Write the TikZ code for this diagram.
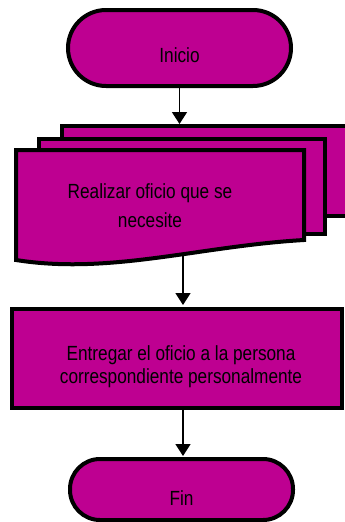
\documentclass[tikz,border=0pt]{standalone}
\usepackage{fontspec}
\newfontfamily\narrowsans[FakeStretch=0.84]{Liberation Sans}
\usetikzlibrary{arrows.meta}
\definecolor{flowfill}{RGB}{190,0,145}
\begin{document}
\begin{tikzpicture}[x=1pt,y=-1pt,
  shapeline/.style={draw=black,line width=4pt,fill=flowfill},
  terminal/.style={shapeline,rectangle,rounded corners=#1,minimum width=223pt,inner sep=0pt,
    font=\narrowsans\fontsize{20.5}{23}\selectfont,text depth=0pt},
  process/.style={shapeline,rectangle,minimum width=330pt,minimum height=99pt,inner sep=0pt},
  label/.style={font=\narrowsans\fontsize{20.5}{23}\selectfont,align=center,inner sep=0pt},
  arr/.style={draw=black,line width=1.6pt,-{Triangle[length=12pt,width=15pt]}}]
\useasboundingbox (0,0) rectangle (345,522);
% start
\node[terminal=38pt,minimum height=76pt,text height=29pt] (inicio) at (179.5,48) {Inicio};
% multi-document
\draw[shapeline] (62,125.5) rectangle (372,216);
\draw[shapeline] (39,138.5) rectangle (325,234);
\draw[shapeline] (16,150) -- (304,150) -- (304,240)
  .. controls (200,246) and (110,275) .. (16,260) -- cycle;
\node[label,font=\narrowsans\fontsize{20.5}{29}\selectfont] (doctext) at (150,206) {Realizar oficio que se\\necesite};
\coordinate (docin) at (179.5,124);
\coordinate (docout) at (183,253);
% process
\node[process] (entrega) at (177,358.5) {};
\node[label] (entregatext) at (181,366.5) {Entregar el oficio a la persona\\correspondiente personalmente};
% end
\node[terminal=30pt,minimum height=61pt,text height=31pt] (fin) at (181.5,489.5) {Fin};
% connectors
\draw[arr] (inicio.south) -- (docin);
\draw[arr,shorten >=2pt] (docout) -- (docout |- entrega.north);
\draw[arr,shorten >=1pt] (fin.north |- entrega.south) ++(1.5,0) coordinate (boxout) -- (boxout |- fin.north);
\end{tikzpicture}
\end{document}
